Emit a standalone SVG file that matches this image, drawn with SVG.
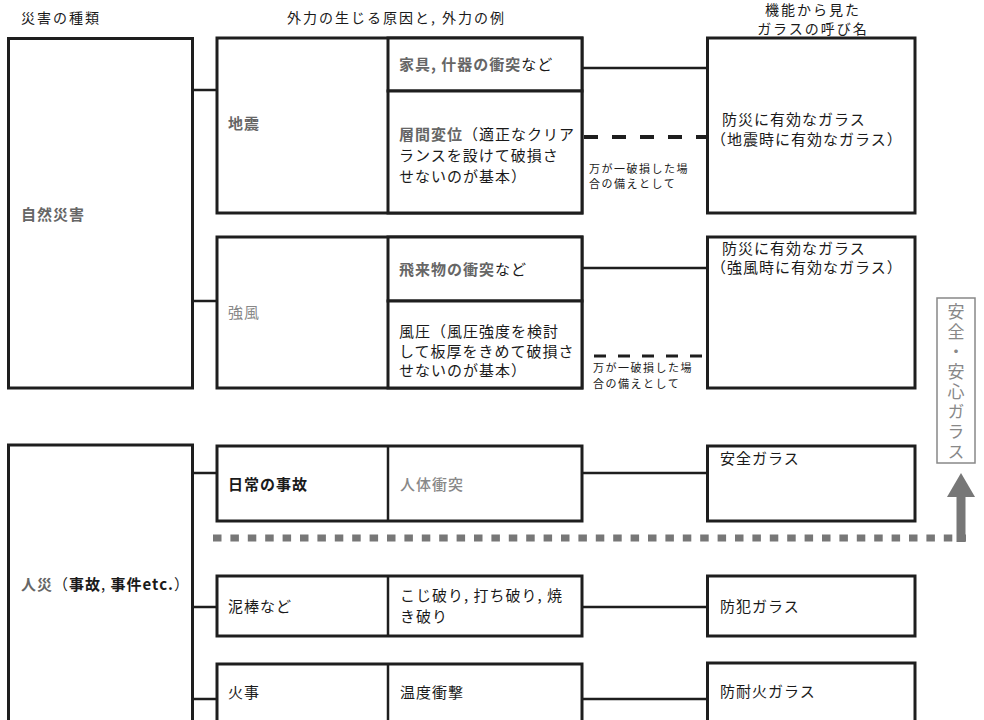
<svg xmlns="http://www.w3.org/2000/svg" width="984" height="720" viewBox="0 0 984 720">
<style>
text{font-family:"Noto Sans CJK JP","Noto Sans CJK SC",sans-serif;fill:#1a1a1a}
.hd{font-size:14px;letter-spacing:2px}
.t{font-size:15px;letter-spacing:1px}
.s{font-size:11px;letter-spacing:1.5px}
.g{fill:#666;font-weight:bold}
.lg{fill:#888}
.b{font-weight:bold}
.box{fill:#fff;stroke:#1e1e1e;stroke-width:3}
.c{stroke:#1e1e1e;stroke-width:2.5;fill:none}
</style>
<rect width="984" height="720" fill="#fff"/>
<g id="headers">
<text class="hd" x="21" y="23">災害の種類</text>
<text class="hd" x="287" y="23">外力の生じる原因と, 外力の例</text>
<text class="hd" x="813" y="15" text-anchor="middle">機能から見た</text>
<text class="hd" x="813" y="34" text-anchor="middle">ガラスの呼び名</text>
</g>
<g id="connectors">
<line class="c" x1="193" y1="90" x2="217" y2="90"/>
<line class="c" x1="193" y1="301" x2="217" y2="301"/>
<line class="c" x1="582" y1="68" x2="708" y2="68"/>
<line x1="584" y1="137" x2="707" y2="137" stroke="#1e1e1e" stroke-width="4" stroke-dasharray="14 14"/>
<line class="c" x1="582" y1="268" x2="708" y2="268"/>
<line x1="594" y1="356" x2="707" y2="356" stroke="#1e1e1e" stroke-width="3" stroke-dasharray="12 12"/>
<line class="c" x1="193" y1="473" x2="217" y2="473"/>
<line class="c" x1="582" y1="473" x2="708" y2="473"/>
<line class="c" x1="193" y1="607" x2="217" y2="607"/>
<line class="c" x1="582" y1="607" x2="708" y2="607"/>
<line class="c" x1="193" y1="699" x2="217" y2="699"/>
<line class="c" x1="582" y1="699" x2="708" y2="699"/>
<line x1="213" y1="538" x2="966" y2="538" stroke="#777" stroke-width="7" stroke-dasharray="8.5 8.9"/>
<line x1="961" y1="542" x2="961" y2="494" stroke="#777" stroke-width="9"/>
<polygon points="947,497 975,497 961,473" fill="#777"/>
<text class="s" x="589" y="173">万が一破損した場</text>
<text class="s" x="589" y="188">合の備えとして</text>
<text class="s" x="593" y="372">万が一破損した場</text>
<text class="s" x="593" y="388">合の備えとして</text>
</g>
<g id="natural">
<rect class="box" x="8.5" y="38.5" width="184" height="349.5"/>
<text class="t g" x="21" y="220">自然災害</text>
</g>
<g id="human">
<rect class="box" x="8.5" y="445" width="184" height="300"/>
<text class="t" x="21" y="590"><tspan class="g" fill="#777">人災</tspan>（<tspan class="b">事故</tspan>, <tspan class="b">事件etc.</tspan>）</text>
</g>
<g id="quake">
<rect class="box" x="217" y="38" width="365" height="175"/>
<text class="t g" x="228" y="129">地震</text>
</g>
<g id="quake-furniture">
<rect class="box" x="388" y="38" width="194" height="53"/>
<text class="t" x="399" y="70"><tspan class="g">家具, 什器の衝突</tspan>など</text>
</g>
<g id="quake-drift">
<rect class="box" x="388" y="91" width="194" height="122"/>
<text class="t" x="399" y="140"><tspan class="g" fill="#555">層間変位</tspan>（適正なクリア</text>
<text class="t" x="399" y="161">ランスを設けて破損さ</text>
<text class="t" x="399" y="182">せないのが基本）</text>
</g>
<g id="glass-quake">
<rect class="box" x="707.5" y="38" width="207.5" height="175"/>
<text class="t" x="722" y="125">防災に有効なガラス</text>
<text class="t" x="711" y="145">（地震時に有効なガラス）</text>
</g>
<g id="wind">
<rect class="box" x="217" y="237" width="365" height="151"/>
<text class="t lg" x="228" y="318">強風</text>
</g>
<g id="wind-flying">
<rect class="box" x="388" y="237" width="194" height="64"/>
<text class="t" x="399" y="275"><tspan class="g">飛来物の衝突</tspan>など</text>
</g>
<g id="wind-pressure">
<rect class="box" x="388" y="301" width="194" height="87"/>
<text class="t" x="399" y="337">風圧（風圧強度を検討</text>
<text class="t" x="399" y="357">して板厚をきめて破損さ</text>
<text class="t" x="399" y="376">せないのが基本）</text>
</g>
<g id="glass-wind">
<rect class="box" x="707.5" y="237" width="207.5" height="151"/>
<text class="t" x="722" y="254">防災に有効なガラス</text>
<text class="t" x="711" y="273">（強風時に有効なガラス）</text>
</g>
<g id="daily">
<rect class="box" x="217" y="446" width="365" height="75"/>
<line class="c" x1="388" y1="446" x2="388" y2="521" stroke-width="3"/>
<text class="t b" x="228" y="490">日常の事故</text>
<text class="t lg" x="400" y="490" font-weight="500">人体衝突</text>
</g>
<g id="safety-glass">
<rect class="box" x="707.5" y="446" width="207.5" height="75"/>
<text class="t" x="720" y="464">安全ガラス</text>
</g>
<g id="theft">
<rect class="box" x="217" y="576" width="365" height="60"/>
<line class="c" x1="388" y1="576" x2="388" y2="636" stroke-width="3"/>
<text class="t" x="228" y="612">泥棒など</text>
<text class="t" x="400" y="601">こじ破り, 打ち破り, 焼</text>
<text class="t" x="400" y="622">き破り</text>
</g>
<g id="anticrime-glass">
<rect class="box" x="707.5" y="576" width="207.5" height="60"/>
<text class="t" x="720" y="612">防犯ガラス</text>
</g>
<g id="fire">
<rect class="box" x="217" y="664" width="365" height="80"/>
<line class="c" x1="388" y1="664" x2="388" y2="744" stroke-width="3"/>
<text class="t" x="228" y="698">火事</text>
<text class="t" x="400" y="698">温度衝撃</text>
</g>
<g id="fireproof-glass">
<rect class="box" x="707.5" y="663" width="207.5" height="80"/>
<text class="t" x="720" y="697">防耐火ガラス</text>
</g>
<g id="anshin">
<rect x="937" y="298" width="38" height="165" fill="#fff" stroke="#888" stroke-width="1.5"/>
<text x="956" y="303" style="writing-mode:vertical-rl;font-size:17px;letter-spacing:3px;fill:#888">安全・安心ガラス</text>
</g>
</svg>
